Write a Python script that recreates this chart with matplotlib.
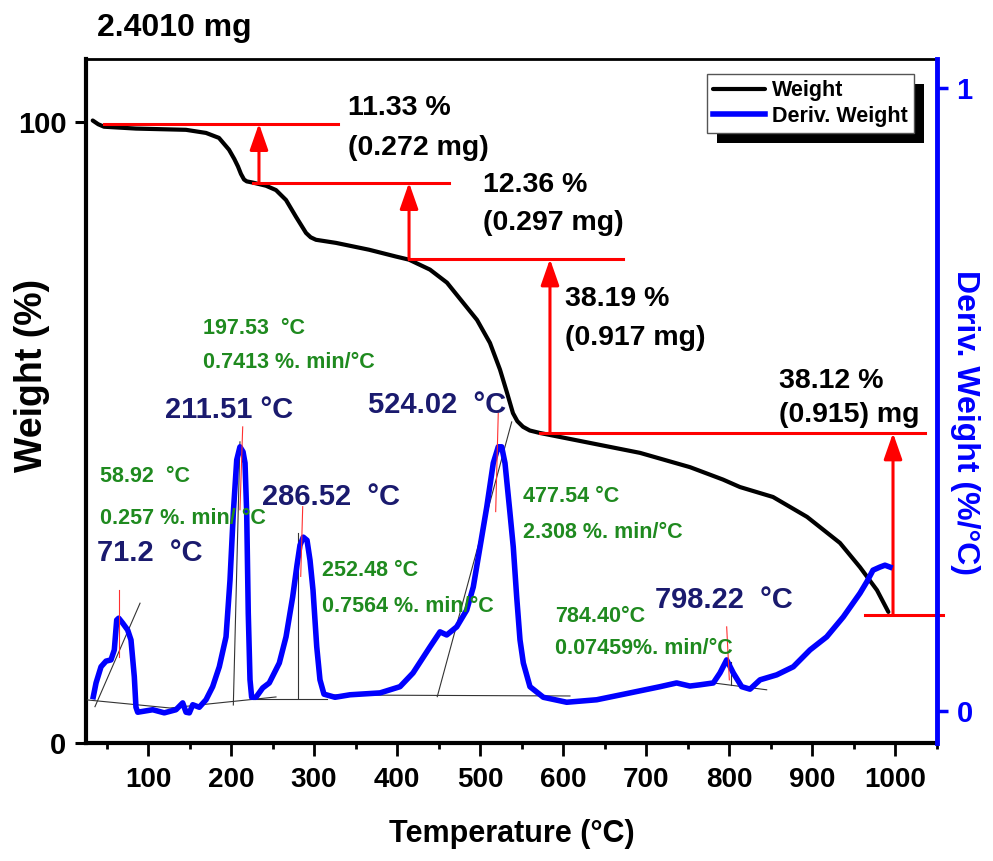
import matplotlib.pyplot as plt
from matplotlib.patches import Rectangle

plt.rcParams['font.family'] = ['Liberation Sans', 'DejaVu Sans']
plt.rcParams['font.weight'] = 'bold'
plt.rcParams['axes.labelweight'] = 'bold'

# TGA weight curve
temp_w = [33.4, 40, 47, 85.5, 145.8, 169.9, 185.5, 197.6, 204, 208.4, 212, 215.7, 219, 226.5,
          242.2, 254.2, 266.3, 278.3, 290.4, 296, 302.4, 326.5, 366.3, 398.8, 414.5, 439.7,
          460.2, 479.5, 496.4, 512.0, 524.1, 532.5, 539.7, 545, 551.8, 560, 572.3, 632.5,
          692.8, 753.0, 792.8, 813.2, 853.0, 894.0, 933.7, 957.8, 978.3, 992.0]
weight = [100.2, 99.6, 99.2, 98.9, 98.7, 98.2, 97.4, 95.5, 94.0, 92.8, 91.6, 90.7, 90.4, 90.2,
          89.7, 89.0, 87.4, 84.7, 82.1, 81.4, 81.0, 80.5, 79.4, 78.3, 77.8, 76.2,
          74.1, 70.9, 68.1, 64.4, 60.1, 56.4, 53.1, 51.8, 50.9, 50.3, 49.9, 48.3,
          46.7, 44.4, 42.4, 41.2, 39.6, 36.4, 32.2, 28.3, 24.6, 21.1]

# DTG curve
temp_d = [34.1, 37.4, 43.4, 49.4, 55.4, 59.4, 62.3, 64.7, 69.5, 75.5, 79.5, 83.5, 85.5,
          87.6, 105.7, 119.6, 133.7, 141.8, 145.8, 149.8, 153.9, 161.8, 169.9, 177.9,
          185.9, 194.0, 198.8, 202.8, 206.9, 210.8, 214.5, 216.9, 218.9, 220.8, 222.9,
          224.9, 230.1, 238.2, 246.1, 258.2, 266.3, 274.3, 279.5, 283.1, 287.1, 291.6,
          295.2, 298.8, 303.3, 307.2, 312.0, 325.3, 343.4, 379.5, 403.6, 419.3, 439.8,
          451.8, 459.9, 471.9, 484.0, 491.9, 500.0, 508.1, 516.0, 522.0, 526.1, 530.1,
          536.1, 540.1, 544.2, 548.2, 552.2, 560.2, 576.3, 604.4, 640.6, 680.7, 716.9,
          736.9, 752.9, 765.0, 781.1, 789.1, 797.2, 805.2, 815.3, 825.3, 837.4, 857.5,
          877.5, 897.6, 917.7, 937.7, 957.8, 965.9, 973.5, 981.9, 987.9, 993.9]
deriv = [0.023, 0.045, 0.071, 0.080, 0.082, 0.098, 0.146, 0.149, 0.141, 0.130, 0.114, 0.055, 0.006,
         -0.002, 0.002, -0.003, 0.002, 0.013, -0.002, -0.003, 0.010, 0.006, 0.018, 0.039,
         0.071, 0.119, 0.210, 0.318, 0.403, 0.424, 0.416, 0.398, 0.318, 0.157, 0.050,
         0.022, 0.022, 0.037, 0.045, 0.077, 0.119, 0.183, 0.234, 0.266, 0.279, 0.274,
         0.242, 0.194, 0.103, 0.050, 0.027, 0.022, 0.026, 0.029, 0.039, 0.061, 0.103,
         0.127, 0.122, 0.135, 0.162, 0.199, 0.263, 0.327, 0.398, 0.424, 0.424, 0.398,
         0.318, 0.263, 0.183, 0.114, 0.077, 0.039, 0.022, 0.014, 0.018, 0.029, 0.039,
         0.045, 0.040, 0.042, 0.045, 0.061, 0.082, 0.061, 0.039, 0.035, 0.050, 0.058,
         0.071, 0.098, 0.119, 0.151, 0.189, 0.207, 0.226, 0.231, 0.234, 0.231]

# mass-loss steps: level temperatures, weight levels, arrows
step_levels = [99.7, 90.2, 77.9, 49.9, 20.6]
step_x0 = [47, 226.5, 414.5, 572.3, 963.8]
step_x1 = [328.9, 462.6, 672.3, 1036.1, 1058.0]
arrow_t = [233.7, 414.5, 584.3, 997.6]

# tangent / baseline construction lines on DTG (T pairs, D pairs)
guide_t = [[27, 126.5, 254.2], [226.5, 315.7], [319.3, 608.4], [36.1, 90.4], [202.8, 210.8],
           [281.1, 281.1], [448.5, 538.2], [781.1, 845.4], [802, 802]]
guide_d = [[0.0177, 0.0048, 0.0225], [0.0193, 0.0193], [0.0257, 0.0241], [0.0069, 0.173],
           [0.0096, 0.432], [0.021, 0.286], [0.023, 0.464], [0.045, 0.034], [0.042, 0.079]]
peak_mark_t = [[65.4, 65.4], [214.1, 210.8], [286.4, 284.0], [522.0, 518.9], [797.2, 800.4]]
peak_mark_d = [[0.194, 0.087], [0.456, 0.323], [0.328, 0.216], [0.478, 0.320], [0.135, 0.050]]

step_labels = [("11.33 %", "(0.272 mg)"), ("12.36 %", "(0.297 mg)"),
               ("38.19 %", "(0.917 mg)"), ("38.12 %", "(0.915) mg")]
peak_labels = ["211.51 °C", "71.2  °C", "286.52  °C", "524.02  °C", "798.22  °C"]
onset_labels = [("197.53  °C", "0.7413 %. min/°C"), ("58.92  °C", "0.257 %. min/ °C"),
                ("252.48 °C", "0.7564 %. min/°C"), ("477.54 °C", "2.308 %. min/°C"),
                ("784.40°C", "0.07459%. min/°C")]

W, H = 993, 861
def fx(x):
    return x / W
def fy(y):
    return 1 - y / H

fig = plt.figure(figsize=(9.93, 8.61), dpi=100)
ax = fig.add_axes([fx(86), fy(743), (937 - 86) / W, (743 - 59) / H])
ax2 = ax.twinx()

l1, = ax.plot(temp_w, weight, color='black', lw=3, zorder=3,
              solid_capstyle='round', solid_joinstyle='round')
l2, = ax2.plot(temp_d, deriv, color='#0000ff', lw=4, zorder=3, solid_joinstyle='round')

for t, d in zip(guide_t, guide_d):
    ax2.plot(t, d, color='#333333', lw=0.8, zorder=2, clip_on=False)
for t, d in zip(peak_mark_t, peak_mark_d):
    ax2.plot(t, d, color='#ff3030', lw=0.8, zorder=4)

for lev, a, b in zip(step_levels, step_x0, step_x1):
    ax.plot([a, b], [lev, lev], color='red', lw=2.2, zorder=4, clip_on=False)
for i, t in enumerate(arrow_t):
    ax.annotate('', xy=(t, step_levels[i]), xytext=(t, step_levels[i + 1]),
                arrowprops=dict(arrowstyle='-|>,head_length=0.8,head_width=0.28',
                                color='red', lw=2.2, mutation_scale=20,
                                shrinkA=0, shrinkB=0), zorder=4)

ax.set_xlim(25.3, 1050.6)
ax.set_ylim(0, 110.1)
ax2.set_ylim(-0.0514, 1.0465)
ax.set_xticks(range(100, 1001, 100))
ax.set_xticks(range(50, 1051, 100), minor=True)
ax.set_yticks([0, 100])
ax2.set_yticks([0, 1])

ax.tick_params(axis='x', which='major', direction='out', length=9, width=2, labelsize=20, pad=8)
ax.tick_params(axis='x', which='minor', direction='out', length=4, width=2)
ax.tick_params(axis='y', direction='out', length=8, width=2.2, labelsize=21, pad=6)
ax2.tick_params(axis='y', direction='out', length=8, width=2.5, labelsize=21, pad=6,
                colors='#0000ff')

ax.spines['right'].set_visible(False)
ax.spines['top'].set_linewidth(2)
ax.spines['left'].set_linewidth(3)
ax.spines['bottom'].set_linewidth(3)
for s in ['left', 'top', 'bottom']:
    ax2.spines[s].set_visible(False)
ax2.spines['right'].set_color('#0000ff')
ax2.spines['right'].set_linewidth(3.5)

ax.set_xlabel('Temperature (°C)', fontsize=22, labelpad=19)
ax.set_ylabel('Weight (%)', fontsize=27, va='center', ha='center')
ax.yaxis.set_label_coords(-0.0635, 0.538)
ax2.set_ylabel('Deriv. Weight (%/°C)', fontsize=23, color='#0000ff', rotation=270,
               va='center', ha='center')
ax2.yaxis.set_label_coords(1.033, 0.469)

fig.text(fx(97), fy(28), "2.4010 mg", fontsize=23, ha='left', va='center')

step_pos = [(348, 108, 148), (483, 185, 223), (565, 299, 338), (779, 381, 415)]
for (a, b), (x, y1, y2) in zip(step_labels, step_pos):
    fig.text(fx(x), fy(y1), a, fontsize=20.5, ha='left', va='center')
    fig.text(fx(x), fy(y2), b, fontsize=20.5, ha='left', va='center')

navy = '#1a1a6e'
peak_pos = [(165, 410), (97, 553), (262, 497), (368, 405), (655, 600)]
for s, (x, y) in zip(peak_labels, peak_pos):
    fig.text(fx(x), fy(y), s, fontsize=21, color=navy, ha='left', va='center')

green = '#1f8a1f'
onset_pos = [(203, 329, 363), (100, 476, 518), (322, 571, 606), (523, 497, 532), (555, 617, 648)]
for (a, b), (x, y1, y2) in zip(onset_labels, onset_pos):
    fig.text(fx(x), fy(y1), a, fontsize=15.5, color=green, ha='left', va='center')
    fig.text(fx(x), fy(y2), b, fontsize=15.5, color=green, ha='left', va='center')

leg = ax2.legend([l1, l2], ['Weight', 'Deriv. Weight'], loc='upper left',
                 bbox_to_anchor=(fx(707), fy(74)), bbox_transform=fig.transFigure,
                 prop={'size': 15.5, 'weight': 'bold'}, fancybox=False, framealpha=1,
                 edgecolor='#555555', borderpad=0.3, labelspacing=0.2,
                 handlelength=2.4, handletextpad=0.3, borderaxespad=0)
leg.get_frame().set_linewidth(1)

fig.canvas.draw()
bb = leg.get_window_extent().transformed(fig.transFigure.inverted())
shadow = Rectangle((bb.x0 + 10 / W, bb.y0 - 10 / H), bb.width, bb.height,
                   transform=fig.transFigure, facecolor='black', edgecolor='none')
ax2.add_artist(shadow)
shadow.set_clip_on(False)
shadow.set_zorder(4.5)

fig.savefig('out.png', dpi=100, facecolor='white')
